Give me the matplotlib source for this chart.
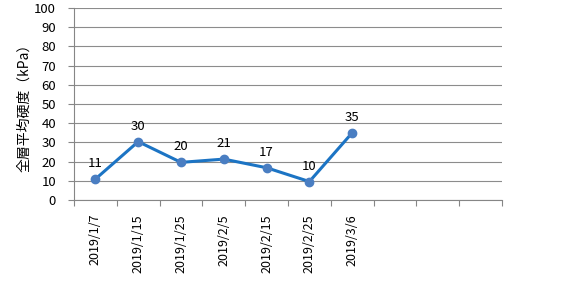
import matplotlib
matplotlib.use("Agg")
import matplotlib.pyplot as plt
import numpy as np

# chart data
dates = ["2019/1/7", "2019/1/15", "2019/1/25", "2019/2/5", "2019/2/15",
         "2019/2/25", "2019/3/6"]
hardness = [10.9, 30.4, 19.6, 21.3, 16.8, 9.6, 35.0]
n_slots = 10  # axis reserves room for 10 categories, only 7 filled
y_ticks = list(range(0, 101, 10))

plt.rcParams["font.family"] = ["Noto Sans CJK JP", "DejaVu Sans"]

fig = plt.figure(figsize=(5.8, 2.81), dpi=100)
ax = fig.add_axes([74 / 580, 81 / 281, 428 / 580, 192 / 281])

x = np.arange(len(dates)) + 0.5
ax.plot(x, hardness, color="#1C74C4", lw=2.2, marker="o", ms=6,
        mfc="#4A7EC2", mec="#4A7EC2", zorder=3)
for xi, v in zip(x, hardness):
    ax.annotate(f"{v:.0f}", (xi, v), xytext=(0, 6.5), textcoords="offset points",
                ha="center", va="bottom", fontsize=9.5, color="#000000")

ax.set_xlim(0, n_slots)
ax.set_ylim(0, 100)
ax.set_yticks(y_ticks)
ax.tick_params(axis="y", labelsize=9.5, length=4, color="#868686", pad=9)

ax.set_xticks(np.arange(n_slots + 1))
ax.set_xticklabels([])
ax.set_xticks(x, minor=True)
ax.set_xticklabels(dates, minor=True, rotation=90, fontsize=9)
ax.tick_params(axis="x", which="major", length=4, color="#868686")
ax.tick_params(axis="x", which="minor", length=0, pad=10)

ax.grid(axis="y", color="#8C8C8C", lw=0.8)
ax.set_axisbelow(True)
for side in ["top", "right"]:
    ax.spines[side].set_visible(False)
for side in ["left", "bottom"]:
    ax.spines[side].set_color("#868686")

ax.set_ylabel("全層平均硬度（kPa）", fontsize=10)
ax.yaxis.set_label_coords(-0.1, 0.5)

fig.savefig("out.png", dpi=100)
